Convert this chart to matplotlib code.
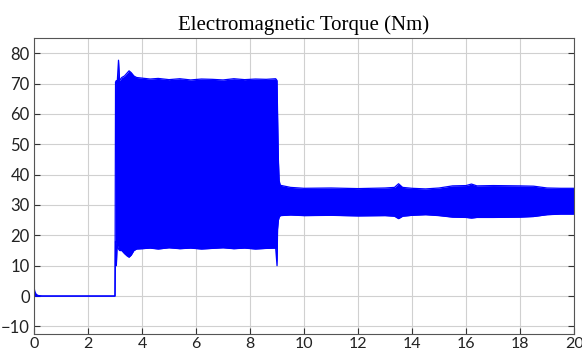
import matplotlib
matplotlib.use("Agg")
import matplotlib.pyplot as plt

# envelope of the torque trace (time in s, torque in Nm)
t_env = [0.0, 0.03, 0.08, 0.15, 0.3, 3.0, 3.02, 3.05, 3.08, 3.13, 3.17, 3.25, 3.35,
         3.45, 3.52, 3.6, 3.7, 3.8, 4.0, 4.3, 4.6, 5.0, 5.4, 5.8, 6.2, 6.6, 7.0,
         7.4, 7.8, 8.2, 8.6, 8.95, 9.0, 9.02, 9.05, 9.08, 9.12, 9.5, 10.0, 11.0,
         12.0, 13.0, 13.35, 13.5, 13.65, 14.0, 14.5, 15.0, 15.5, 16.0, 16.2, 16.4,
         17.0, 18.0, 18.5, 19.0, 19.5, 20.0]
upper = [3.0, 1.5, 0.6, 0.2, 0.0, 0.0, 70.5, 71.0, 70.0, 77.7, 71.0, 72.0, 72.5,
         73.5, 74.2, 73.6, 72.5, 72.0, 71.8, 71.5, 71.7, 71.3, 71.6, 71.2, 71.5,
         71.4, 71.2, 71.6, 71.3, 71.5, 71.4, 71.6, 71.0, 60.0, 45.0, 38.0, 36.5,
         35.8, 35.5, 35.6, 35.4, 35.6, 35.8, 37.0, 35.8, 35.5, 35.3, 35.6, 36.3,
         36.4, 36.9, 36.3, 36.4, 36.3, 36.2, 35.6, 35.5, 35.5]
lower = [0.0, 0.0, 0.0, 0.0, 0.0, 0.0, 18.0, 10.0, 17.0, 15.5, 15.0, 15.0, 14.0,
         13.2, 12.8, 13.5, 15.0, 15.5, 15.6, 15.8, 15.5, 15.9, 15.6, 15.8, 15.5,
         15.7, 15.9, 15.6, 15.8, 15.5, 15.7, 15.8, 10.0, 22.0, 25.0, 26.0, 26.5,
         26.7, 26.5, 26.6, 26.4, 26.5, 26.3, 25.5, 26.3, 26.6, 26.8, 26.5, 26.0,
         25.9, 25.7, 25.9, 25.9, 26.0, 26.2, 26.8, 27.0, 27.0]

blue = (0, 0, 1)

fig = plt.figure(figsize=(5.82, 3.54), dpi=100)
ax = fig.add_axes([0.0584, 0.0565, 0.928, 0.836])

ax.fill_between(t_env, lower, upper, color=blue, linewidth=0)
ax.plot(t_env, upper, color=blue, linewidth=0.9)
ax.plot(t_env, lower, color=blue, linewidth=0.9)

ax.set_xlim(0, 20)
ax.set_ylim(-12.5, 85)
ax.set_xticks(range(0, 21, 2))
ax.set_yticks(range(-10, 81, 10))
ax.grid(True, color="#d0d0d0", linewidth=0.8)
ax.set_axisbelow(True)

for s in ax.spines.values():
    s.set_color("#555555")
    s.set_linewidth(0.8)
ax.tick_params(direction="in", length=4, color="#333333", right=True,
               labelsize=12, pad=3)
ax.tick_params(axis="x", labelsize=11.5, pad=2)
for lab in ax.get_xticklabels() + ax.get_yticklabels():
    lab.set_family("Lato")
    lab.set_color("#222222")

ax.set_title("Electromagnetic Torque (Nm)", family="Liberation Serif",
             fontsize=15, pad=6)

fig.savefig("out.png", dpi=100)
